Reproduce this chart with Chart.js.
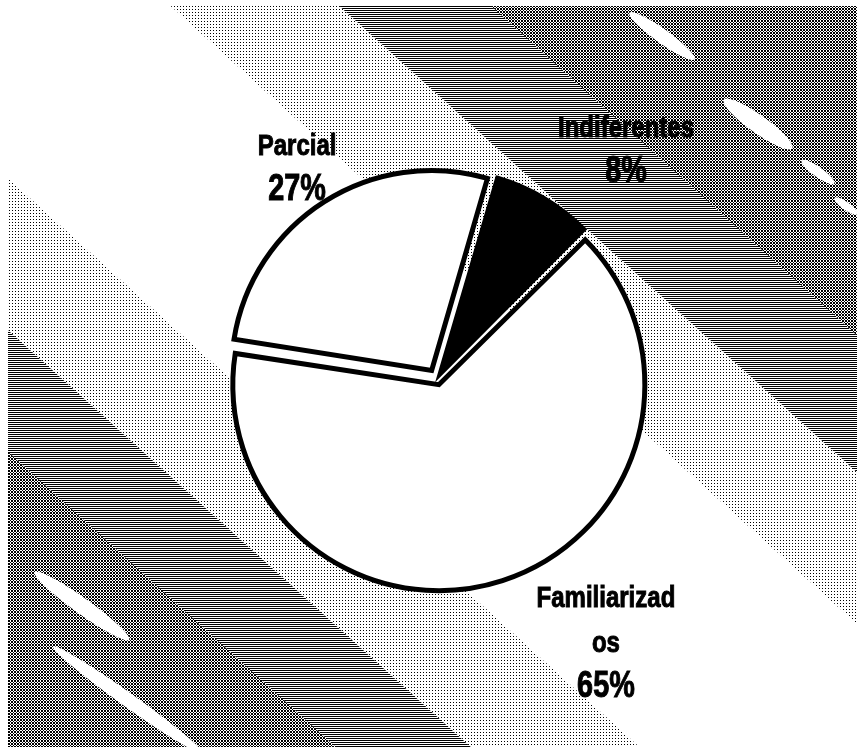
<!DOCTYPE html>
<html lang="es">
<head>
<meta charset="UTF-8">
<title>Pie chart</title>
<script src="https://cdn.jsdelivr.net/npm/chart.js@4.4.1/dist/chart.umd.min.js"></script>
<style>
  html, body { margin: 0; padding: 0; background: #fff; }
  canvas { display: block; }
</style>
</head>
<body>
<canvas id="pieChart" width="857" height="747"></canvas>
<script>
// chart data
const categories = ['Parcial', 'Indiferentes', 'Familiarizados'];
const labelLines = [['Parcial'], ['Indiferentes'], ['Familiarizad', 'os']];
const percentages = [27, 8, 65];
const sliceColors = ['#ffffff', '#000000', '#ffffff'];

// where each label block sits: angle (deg, clockwise from top) and distance from pie centre
const labelPlacement = [
  { angle: -32, dist: 264 },
  { angle: 38, dist: 307 },
  { angle: 143.5, dist: 284 }
];

// small dither patterns for the scanned background
function makePattern(ctx, w, h, pixels) {
  const c = document.createElement('canvas');
  c.width = w; c.height = h;
  const p = c.getContext('2d');
  p.fillStyle = '#fff';
  p.fillRect(0, 0, w, h);
  p.fillStyle = '#000';
  pixels.forEach(([x, y]) => p.fillRect(x, y, 1, 1));
  return ctx.createPattern(c, 'repeat');
}

const backgroundPlugin = {
  id: 'scanBackground',
  beforeDraw(chart) {
    const ctx = chart.ctx;
    const W = chart.width, H = chart.height;
    const dots = makePattern(ctx, 3, 3, [[0, 0]]);
    const lines = makePattern(ctx, 1, 2, [[0, 0]]);
    const cross = makePattern(ctx, 3, 3, [[0, 0], [1, 1], [2, 2], [2, 0], [0, 2]]);

    // bands across a 42deg gradient axis (0 = bottom-left, 1 = top-right)
    const ang = 42 * Math.PI / 180;
    const len = W * Math.sin(ang) + H * Math.cos(ang);
    const bands = [
      [0, 0.20, cross], [0.20, 0.28, lines], [0.28, 0.38, dots], [0.38, 0.59, '#fff'],
      [0.59, 0.69, dots], [0.69, 0.78, lines], [0.78, 1, cross]
    ];
    ctx.save();
    bands.forEach(([t0, t1, fill]) => {
      ctx.save();
      ctx.translate(W / 2, H / 2);
      ctx.rotate(-(Math.PI / 2 - ang));
      ctx.beginPath();
      ctx.rect(t0 * len - len / 2 - 1, -2000, (t1 - t0) * len + 2, 4000);
      ctx.setTransform(1, 0, 0, 1, 0, 0);
      ctx.fillStyle = fill;
      ctx.fill();
      ctx.restore();
    });

    // white scratches on the dark bands
    const streaks = [[662, 36, 40, 7], [758, 124, 42, 9], [818, 172, 20, 5], [846, 206, 14, 4],
                     [82, 606, 58, 8], [128, 700, 92, 7]];
    ctx.fillStyle = '#fff';
    streaks.forEach(([x, y, rx, ry]) => {
      ctx.beginPath();
      ctx.ellipse(x, y, rx, ry, 0.62, 0, Math.PI * 2);
      ctx.fill();
    });
    // white scan margins
    ctx.fillRect(0, 0, 8, H);
    ctx.fillRect(0, 0, W, 6);
    ctx.restore();
  }
};

const labelPlugin = {
  id: 'sliceLabels',
  afterDatasetsDraw(chart) {
    const ctx = chart.ctx;
    const meta = chart.getDatasetMeta(0);
    ctx.save();
    ctx.fillStyle = '#000';
    ctx.strokeStyle = '#000';
    ctx.lineWidth = 1;
    ctx.textAlign = 'center';
    ctx.textBaseline = 'alphabetic';
    meta.data.forEach((arc, i) => {
      const a = labelPlacement[i].angle * Math.PI / 180;
      const x = arc.x + labelPlacement[i].dist * Math.sin(a);
      let y = arc.y - labelPlacement[i].dist * Math.cos(a);
      const texts = labelLines[i].concat([percentages[i] + '%']);
      texts.forEach((t, j) => {
        const isPct = j === texts.length - 1;
        ctx.font = 'bold ' + (isPct ? 36 : 30) + 'px "Liberation Sans", Arial, sans-serif';
        ctx.save();
        ctx.translate(x, y);
        ctx.scale(0.8, 1);
        ctx.fillText(t, 0, 0);
        ctx.strokeText(t, 0, 0);
        ctx.restore();
        y += 45;
      });
    });
    ctx.restore();
  }
};

const ctx = document.getElementById('pieChart').getContext('2d');
const chart = new Chart(ctx, {
  type: 'pie',
  data: {
    labels: categories,
    datasets: [{
      data: percentages,
      backgroundColor: sliceColors,
      borderColor: '#000',
      borderWidth: 5,
      borderJoinStyle: 'miter',
      // Chart.js scales the explode distance by slice size, so these give ~10-12px each
      offset: [40, 26, 24],
      hoverOffset: 0
    }]
  },
  options: {
    responsive: false,
    animation: false,
    rotation: -81,
    radius: 200,
    layout: { padding: { left: 17, top: 11, right: 0, bottom: 0 } },
    plugins: {
      legend: { display: false },
      tooltip: { enabled: false }
    }
  },
  plugins: [backgroundPlugin, labelPlugin]
});
</script>
</body>
</html>
